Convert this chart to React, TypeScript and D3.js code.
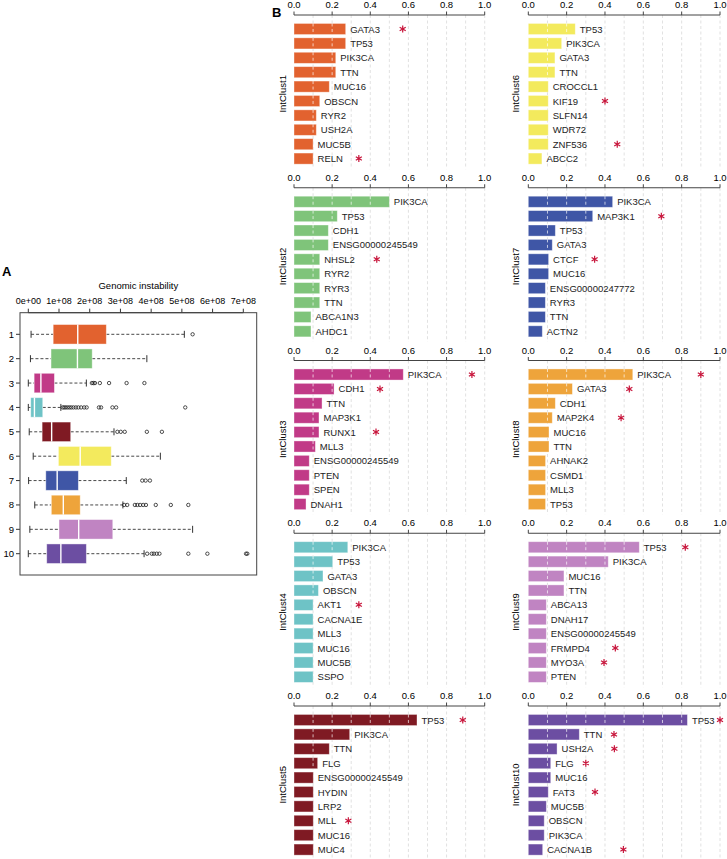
import React from 'react';
import * as d3 from 'd3';

// ---- data ----
const clusters = ['IntClust1', 'IntClust2', 'IntClust3', 'IntClust4', 'IntClust5',
  'IntClust6', 'IntClust7', 'IntClust8', 'IntClust9', 'IntClust10'];
const clusterColors = ['#E2622F', '#7FC47A', '#C13A87', '#6EC3C6', '#7F1A23',
  '#F3EA5D', '#3F56A6', '#EEA43B', '#C084C2', '#6C4EA2'];

// panel A: genomic instability (units of 1e8)
const boxRows = ['1', '2', '3', '4', '5', '6', '7', '8', '9', '10'];
const whiskerLow = [0.09, 0.07, 0.0, 0.0, 0.03, 0.16, 0.01, 0.21, 0.05, 0.0];
const q1 = [0.81, 0.74, 0.19, 0.08, 0.45, 0.98, 0.57, 0.75, 1.0, 0.6];
const median = [1.61, 1.6, 0.41, 0.2, 0.76, 1.69, 0.94, 1.14, 1.64, 1.06];
const q3 = [2.54, 2.08, 0.85, 0.47, 1.38, 2.7, 1.63, 1.69, 2.75, 1.89];
const whiskerHigh = [5.08, 3.86, 1.89, 1.06, 2.79, 4.3, 3.19, 3.08, 5.35, 3.77];
const outliers = [
  [5.35],
  [],
  [2.07, 2.12, 2.17, 2.33, 2.63, 3.2, 3.78],
  [1.12, 1.17, 1.22, 1.28, 1.34, 1.4, 1.47, 1.55, 1.63, 1.72, 1.82, 1.9, 2.3, 2.37, 2.74, 2.86, 5.11],
  [2.9, 3.01, 3.14, 3.86, 4.35],
  [],
  [3.71, 3.82, 3.96],
  [3.12, 3.22, 3.47, 3.55, 3.64, 3.74, 3.83, 4.15, 4.64, 5.21],
  [],
  [3.87, 4.02, 4.09, 4.18, 4.27, 5.21, 5.83, 7.09, 7.13],
];
const boxTicks = [0, 1, 2, 3, 4, 5, 6, 7];
const boxTickLabels = ['0e+00', '1e+08', '2e+08', '3e+08', '4e+08', '5e+08', '6e+08', '7e+08'];

// panel B: mutation frequency per cluster
const genesByCluster = [
  ['GATA3', 'TP53', 'PIK3CA', 'TTN', 'MUC16', 'OBSCN', 'RYR2', 'USH2A', 'MUC5B', 'RELN'],
  ['PIK3CA', 'TP53', 'CDH1', 'ENSG00000245549', 'NHSL2', 'RYR2', 'RYR3', 'TTN', 'ABCA1N3', 'AHDC1'],
  ['PIK3CA', 'CDH1', 'TTN', 'MAP3K1', 'RUNX1', 'MLL3', 'ENSG00000245549', 'PTEN', 'SPEN', 'DNAH1'],
  ['PIK3CA', 'TP53', 'GATA3', 'OBSCN', 'AKT1', 'CACNA1E', 'MLL3', 'MUC16', 'MUC5B', 'SSPO'],
  ['TP53', 'PIK3CA', 'TTN', 'FLG', 'ENSG00000245549', 'HYDIN', 'LRP2', 'MLL', 'MUC16', 'MUC4'],
  ['TP53', 'PIK3CA', 'GATA3', 'TTN', 'CROCCL1', 'KIF19', 'SLFN14', 'WDR72', 'ZNF536', 'ABCC2'],
  ['PIK3CA', 'MAP3K1', 'TP53', 'GATA3', 'CTCF', 'MUC16', 'ENSG00000247772', 'RYR3', 'TTN', 'ACTN2'],
  ['PIK3CA', 'GATA3', 'CDH1', 'MAP2K4', 'MUC16', 'TTN', 'AHNAK2', 'CSMD1', 'MLL3', 'TP53'],
  ['TP53', 'PIK3CA', 'MUC16', 'TTN', 'ABCA13', 'DNAH17', 'ENSG00000245549', 'FRMPD4', 'MYO3A', 'PTEN'],
  ['TP53', 'TTN', 'USH2A', 'FLG', 'MUC16', 'FAT3', 'MUC5B', 'OBSCN', 'PIK3CA', 'CACNA1B'],
];
const freqByCluster = [
  [0.271, 0.271, 0.219, 0.219, 0.185, 0.135, 0.117, 0.117, 0.1, 0.1],
  [0.5, 0.227, 0.18, 0.18, 0.135, 0.135, 0.135, 0.135, 0.089, 0.089],
  [0.573, 0.21, 0.147, 0.131, 0.131, 0.112, 0.08, 0.08, 0.08, 0.063],
  [0.282, 0.203, 0.152, 0.128, 0.1, 0.1, 0.1, 0.1, 0.1, 0.1],
  [0.645, 0.292, 0.185, 0.124, 0.101, 0.101, 0.101, 0.101, 0.101, 0.101],
  [0.245, 0.174, 0.139, 0.139, 0.104, 0.104, 0.104, 0.104, 0.104, 0.071],
  [0.44, 0.336, 0.141, 0.125, 0.106, 0.106, 0.089, 0.089, 0.089, 0.073],
  [0.545, 0.23, 0.141, 0.125, 0.108, 0.108, 0.09, 0.09, 0.09, 0.09],
  [0.579, 0.417, 0.186, 0.186, 0.094, 0.094, 0.094, 0.094, 0.094, 0.094],
  [0.83, 0.266, 0.15, 0.117, 0.117, 0.104, 0.094, 0.083, 0.083, 0.075],
];
// significance stars: gene and where on the 0-1 axis the star sits
const starGenes = [
  ['GATA3', 'RELN'], ['NHSL2'], ['PIK3CA', 'CDH1', 'RUNX1'], ['AKT1'], ['TP53', 'MLL'],
  ['KIF19', 'ZNF536'], ['MAP3K1', 'CTCF'], ['PIK3CA', 'GATA3', 'MAP2K4'],
  ['TP53', 'FRMPD4', 'MYO3A'], ['TP53', 'TTN', 'USH2A', 'FLG', 'FAT3', 'CACNA1B'],
];
const starAt = [
  [0.57, 0.34], [0.434], [0.933, 0.451, 0.43], [0.34], [0.885, 0.285],
  [0.4, 0.464], [0.694, 0.346], [0.9, 0.527, 0.484],
  [0.819, 0.454, 0.395], [1.0, 0.447, 0.449, 0.3, 0.348, 0.496],
];
const freqTicks = [0, 0.2, 0.4, 0.6, 0.8, 1.0];
const gridValues = [0.1, 0.2, 0.3, 0.4, 0.5, 0.6, 0.7, 0.8, 0.9, 1.0];

const FONT = '"Liberation Sans", Arial, Helvetica, sans-serif';

function BoxPanel() {
  const x = d3.scaleLinear().domain([0, 7]).range([28.3, 243.3]);
  const y = d3.scalePoint().domain(boxRows).range([334.3, 553.7]);
  const frame = { x0: 20, x1: 256.7, y0: 312.7, y1: 575 };
  const bh = 19.5;
  return (
    <g fontFamily={FONT}>
      <text x={2} y={276} fontSize={13} fontWeight="bold">A</text>
      <text x={(frame.x0 + frame.x1) / 2} y={289} fontSize={9.5} textAnchor="middle">Genomic instability</text>
      {boxTicks.map((t, i) => (
        <g key={t}>
          <line x1={x(t)} x2={x(t)} y1={frame.y0} y2={frame.y0 - 4} stroke="#333" />
          <text x={x(t)} y={303.5} fontSize={9} textAnchor="middle">{boxTickLabels[i]}</text>
        </g>
      ))}
      <line x1={x(0)} x2={x(7)} y1={frame.y0} y2={frame.y0} stroke="#333" />
      {boxRows.map((r, i) => {
        const cy = y(r)!;
        const c = clusterColors[i];
        return (
          <g key={r}>
            <line x1={frame.x0} x2={frame.x0 - 4} y1={cy} y2={cy} stroke="#333" />
            <text x={14} y={cy} fontSize={9.5} textAnchor="end" dominantBaseline="central">{r}</text>
            <line x1={x(whiskerLow[i])} x2={x(q1[i])} y1={cy} y2={cy} stroke="#333" strokeDasharray="3,2" strokeWidth={0.9} />
            <line x1={x(q3[i])} x2={x(whiskerHigh[i])} y1={cy} y2={cy} stroke="#333" strokeDasharray="3,2" strokeWidth={0.9} />
            <line x1={x(whiskerLow[i])} x2={x(whiskerLow[i])} y1={cy - 3.5} y2={cy + 3.5} stroke="#333" />
            <line x1={x(whiskerHigh[i])} x2={x(whiskerHigh[i])} y1={cy - 3.5} y2={cy + 3.5} stroke="#333" />
            <rect x={x(q1[i])} y={cy - bh / 2} width={x(q3[i]) - x(q1[i])} height={bh}
              fill={c} stroke="#ffffff" strokeOpacity={0.5} strokeWidth={0.8} />
            <line x1={x(median[i])} x2={x(median[i])} y1={cy - bh / 2} y2={cy + bh / 2} stroke="#fff" strokeWidth={1.4} />
            {outliers[i].map((o, k) => (
              <circle key={k} cx={x(o)} cy={cy} r={1.7} fill="none" stroke="#222" strokeWidth={0.8} />
            ))}
          </g>
        );
      })}
      <rect x={frame.x0} y={frame.y0} width={frame.x1 - frame.x0} height={frame.y1 - frame.y0}
        fill="none" stroke="#444" strokeWidth={1} />
    </g>
  );
}

function BarPanel({ idx }: { idx: number }) {
  const col = idx < 5 ? 0 : 1;
  const row = idx % 5;
  const x = d3.scaleLinear().domain([0, 1]).range(col === 0 ? [294, 484.7] : [528.3, 720]);
  const firstCenter = 29 + row * 172.75;
  const axisY = firstCenter - 14;
  const genes = genesByCluster[idx];
  const freqs = freqByCluster[idx];
  const y = d3.scaleBand().domain(genes).range([firstCenter - 7.2, firstCenter - 7.2 + 144])
    .paddingInner(0.23).paddingOuter(0.115);
  const color = clusterColors[idx];
  const bottom = y(genes[genes.length - 1])! + y.bandwidth() + 5;
  const star = d3.symbol().type(d3.symbolAsterisk).size(34)();
  const labelX = col === 0 ? 282 : 515.5;
  return (
    <g fontFamily={FONT}>
      {gridValues.map(g => (
        <line key={g} x1={x(g)} x2={x(g)} y1={axisY} y2={bottom} stroke="#d4d4d4" strokeWidth={0.7} strokeDasharray="3,2.5" />
      ))}
      <line x1={x(0)} x2={x(1)} y1={axisY} y2={axisY} stroke="#444" />
      {freqTicks.map(t => (
        <g key={t}>
          <line x1={x(t)} x2={x(t)} y1={axisY} y2={axisY - 3.5} stroke="#444" />
          <text x={x(t)} y={axisY - 7} fontSize={9.5} textAnchor="middle">{t.toFixed(1)}</text>
        </g>
      ))}
      {genes.map((gname, i) => {
        const yy = y(gname)!;
        const v = freqs[i];
        return (
          <g key={gname}>
            <rect x={x(0)} y={yy} width={x(v) - x(0)} height={y.bandwidth()} fill={color}
              stroke="#fff" strokeOpacity={0.45} strokeWidth={0.8} />
            {gridValues.filter(g => g < v - 0.008).map(g => (
              <line key={g} x1={x(g)} x2={x(g)} y1={yy} y2={yy + y.bandwidth()} stroke="#fff" strokeOpacity={0.85}
                strokeWidth={0.8} strokeDasharray="3,2.5" />
            ))}
            <text x={x(v) + 4.5} y={yy + y.bandwidth() / 2} fontSize={9.5} dominantBaseline="central" fill="#222">{gname}</text>
          </g>
        );
      })}
      {starGenes[idx].map((gname, k) => (
        <path key={gname} d={star!} transform={`translate(${x(starAt[idx][k])},${y(gname)! + y.bandwidth() / 2})`}
          fill="none" stroke="#C8163C" strokeWidth={1.2} />
      ))}
      <text transform={`translate(${labelX},${firstCenter + 64.8}) rotate(-90)`} fontSize={9.5}
        textAnchor="middle" dominantBaseline="central">{clusters[idx]}</text>
    </g>
  );
}

export default function App() {
  return (
    <svg width={727} height={859} style={{ position: 'absolute', left: 0, top: 0, background: '#fff' }}>
      <rect width={727} height={859} fill="#fff" />
      <BoxPanel />
      <text x={272} y={17} fontSize={13} fontWeight="bold" fontFamily={FONT}>B</text>
      {clusters.map((c, i) => <BarPanel key={c} idx={i} />)}
    </svg>
  );
}
